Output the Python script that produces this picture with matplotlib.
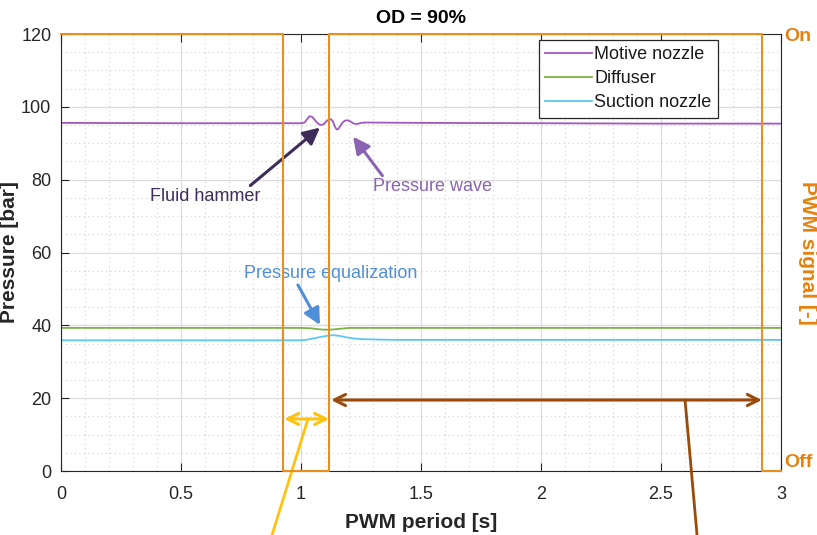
import numpy as np
import matplotlib.pyplot as plt
from matplotlib.ticker import MultipleLocator

plt.rcParams['font.family'] = ['Liberation Sans', 'DejaVu Sans']

# Pressure traces over one PWM period
t_motive = [0, 0.5, 1.0, 1.015, 1.025, 1.035, 1.045, 1.055, 1.065, 1.075, 1.085,
            1.095, 1.105, 1.115, 1.125, 1.133, 1.141, 1.148, 1.155, 1.163, 1.172,
            1.182, 1.195, 1.208, 1.22, 1.235, 1.25, 1.27, 1.5, 2.0, 2.5, 3.0]
p_motive = [95.6, 95.5, 95.5, 95.7, 96.6, 97.4, 97.3, 96.6, 95.8, 95.2, 95.0,
            95.3, 96.0, 96.5, 96.6, 96.0, 94.6, 93.8, 93.9, 94.7, 95.6,
            96.2, 96.3, 95.9, 95.4, 95.3, 95.6, 95.7, 95.6, 95.5, 95.4, 95.4]

t_diffuser = [0, 1.0, 1.04, 1.07, 1.1, 1.13, 1.16, 1.2, 3.0]
p_diffuser = [39.3, 39.3, 39.2, 38.95, 38.8, 38.85, 39.05, 39.3, 39.3]

t_suction = [0, 1.0, 1.02, 1.05, 1.08, 1.11, 1.135, 1.16, 1.19, 1.22, 1.26, 1.32, 1.4, 3.0]
p_suction = [35.9, 35.9, 36.0, 36.4, 36.8, 37.15, 37.3, 37.1, 36.7, 36.4, 36.2, 36.1, 36.0, 36.0]

# PWM valve signal (1 = On, 0 = Off)
t_pwm = [0, 0.925, 0.925, 1.117, 1.117, 2.92, 2.92, 3.0]
s_pwm = [1, 1, 0, 0, 1, 1, 0, 0]

c_motive = '#A257BD'
c_diff = '#7AB445'
c_suct = '#5DC6F2'
c_pwm = '#E8901F'
c_pwm_txt = '#E5820F'
dark = '#262626'

fig = plt.figure(figsize=(8.17, 5.35), dpi=100)
ax = fig.add_axes([0.0747, 0.1196, 0.8813, 0.8168])

ax.plot(t_motive, p_motive, color=c_motive, lw=1.3, label='Motive nozzle')
ax.plot(t_diffuser, p_diffuser, color=c_diff, lw=1.3, label='Diffuser')
ax.plot(t_suction, p_suction, color=c_suct, lw=1.3, label='Suction nozzle')

ax.set_xlim(0, 3)
ax.set_ylim(0, 120)
ax.xaxis.set_minor_locator(MultipleLocator(0.1))
ax.yaxis.set_major_locator(MultipleLocator(20))
ax.yaxis.set_minor_locator(MultipleLocator(5))
ax.set_xticks([0, 0.5, 1, 1.5, 2, 2.5, 3])
ax.set_xticklabels(['0', '0.5', '1', '1.5', '2', '2.5', '3'])
ax.grid(which='major', color='#DCDCDC', lw=0.9, ls='-')
ax.grid(which='minor', color='#CFCFCF', lw=0.8, ls=(0, (1, 3)))
ax.set_axisbelow(True)
ax.tick_params(which='both', direction='in', top=True, right=True,
               colors=dark, labelsize=13)
ax.tick_params(which='minor', length=0)
ax.tick_params(which='major', length=6)
ax.tick_params(axis='x', pad=11)
ax.tick_params(axis='y', pad=7)
for s in ax.spines.values():
    s.set_color(dark)
    s.set_linewidth(0.8)

ax.set_xlabel('PWM period [s]', fontsize=15, fontweight='bold', color=dark, labelpad=7)
ax.set_ylabel('Pressure [bar]', fontsize=15, fontweight='bold', color=dark)
ax.yaxis.set_label_coords(-0.058, 0.5)
ax.set_title('OD = 90%', fontsize=14, fontweight='bold', color='black', pad=8)

leg = ax.legend(loc='upper right', bbox_to_anchor=(0.9125, 0.986), fontsize=13,
                frameon=True, fancybox=False, framealpha=1, edgecolor=dark,
                handlelength=2.6, handletextpad=0.15, borderpad=0.35,
                labelspacing=0.38, borderaxespad=0)
leg.get_frame().set_linewidth(0.9)
for txt in leg.get_texts():
    txt.set_color('#1a1a1a')

# PWM signal on the right axis
ax2 = ax.twinx()
ax2.plot(t_pwm, s_pwm, color=c_pwm, lw=1.5, clip_on=False)
ax2.set_ylim(0, 1)
ax2.set_yticks([0, 1])
ax2.set_yticklabels(['Off', 'On'])
ax2.tick_params(axis='y', length=0, pad=2, labelsize=14, labelcolor=c_pwm_txt)
for lab in ax2.get_yticklabels():
    lab.set_fontweight('bold')
ax2.get_yticklabels()[0].set_verticalalignment('bottom')
ax2.set_ylabel('PWM signal [-]', fontsize=15, fontweight='bold', color=c_pwm_txt,
               rotation=270, labelpad=14)
ax2.yaxis.set_label_coords(1.05, 0.5)
for s in ax2.spines.values():
    s.set_visible(False)

# Annotations
ax.annotate('Fluid hammer', xy=(1.079, 94.3), xytext=(0.6, 75.3),
            fontsize=13, color='#3E2D58', ha='center', va='center',
            arrowprops=dict(arrowstyle='-|>', color='#3E2D58', lw=2.2,
                            mutation_scale=25, shrinkA=0, shrinkB=0,
                            relpos=(0.88, 1.0)))
ax.annotate('Pressure wave', xy=(1.217, 91.8), xytext=(1.546, 78.0),
            fontsize=13, color='#8A63B2', ha='center', va='center',
            arrowprops=dict(arrowstyle='-|>', color='#8A63B2', lw=2.2,
                            mutation_scale=25, shrinkA=0, shrinkB=0,
                            relpos=(0.1, 1.0)))
ax.annotate('Pressure equalization', xy=(1.079, 40.1), xytext=(1.125, 54.2),
            fontsize=13, color='#4F8FD8', ha='center', va='center',
            arrowprops=dict(arrowstyle='-|>', color='#4F8FD8', lw=2.2,
                            mutation_scale=25, shrinkA=0, shrinkB=0,
                            relpos=(0.3, 0.0)))

# Off / On duration arrows with pointer lines leaving the plot
c_off = '#FFC20E'
c_on = '#9A4A0A'
ax.annotate('', xy=(0.93, 14.3), xytext=(1.117, 14.3),
            arrowprops=dict(arrowstyle='<->', color=c_off, lw=2.2,
                            mutation_scale=20, shrinkA=0, shrinkB=0))
ax.annotate('', xy=(1.029, 14.3), xytext=(0.879, -17.6), annotation_clip=False,
            arrowprops=dict(arrowstyle='-', color=c_off, lw=2, shrinkA=0, shrinkB=0))
ax.annotate('', xy=(1.125, 19.5), xytext=(2.92, 19.5),
            arrowprops=dict(arrowstyle='<->', color=c_on, lw=2.2,
                            mutation_scale=20, shrinkA=0, shrinkB=0))
ax.annotate('', xy=(2.6, 19.5), xytext=(2.65, -17.6), annotation_clip=False,
            arrowprops=dict(arrowstyle='-', color=c_on, lw=2, shrinkA=0, shrinkB=0))

fig.savefig('out.png', dpi=100)
